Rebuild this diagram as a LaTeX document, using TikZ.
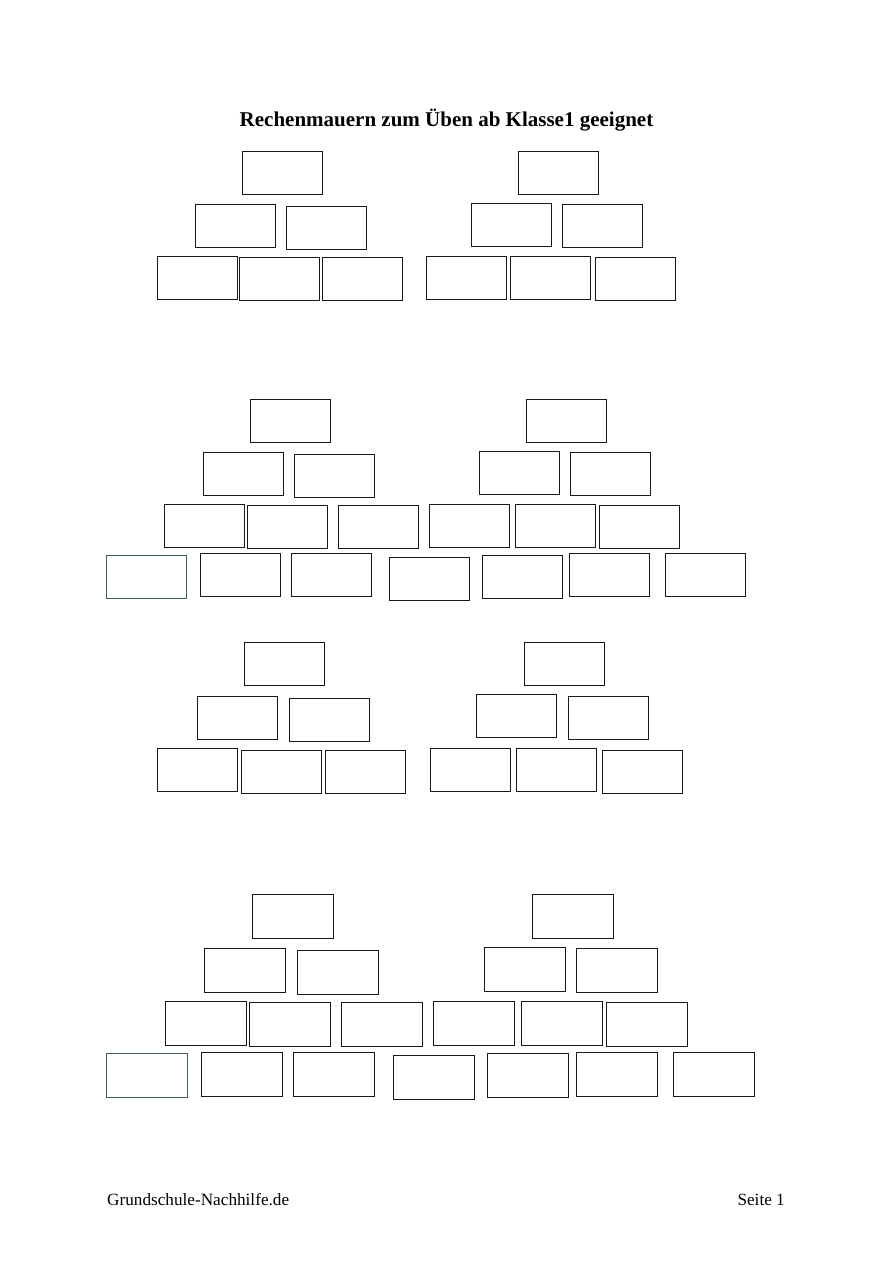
\documentclass[tikz,border=0pt]{standalone}
\usepackage{fontspec}
\setmainfont{Liberation Serif}
\usepackage{xcolor}
\usepackage{tikz}
\usetikzlibrary{positioning}
\definecolor{slategrey}{RGB}{70,95,85}
\tikzset{
  brick/.style={draw=black!90, line width=1.2pt, rectangle, anchor=north west, minimum width=80pt, minimum height=43pt, inner sep=0pt},
  bigbrick/.style={brick, minimum width=81pt, minimum height=44pt},
  edgebrick/.style={draw=slategrey},
  titlenode/.style={font=\fontsize{21}{25}\selectfont\bfseries, anchor=base, inner sep=0pt},
  footnode/.style={font=\fontsize{17.2}{20}\selectfont, inner sep=0pt}
}
\begin{document}
\begin{tikzpicture}[x=1pt, y=-1pt]
\useasboundingbox (0,0) rectangle (893,1263);

% Title
\node[titlenode] (title) at (446.5,126) {Rechenmauern zum Üben ab Klasse1 geeignet};

% Wall 1 left and right
\foreach \x/\y [count=\i] in {242/151, 195/204, 286/206, 157/256, 239/257, 322/257}
  \node[brick] (a\i) at (\x,\y) {};
\foreach \x/\y [count=\i] in {518/151, 471/203, 562/204, 426/256, 510/256, 595/257}
  \node[brick] (b\i) at (\x,\y) {};

% Wall 2 (four rows)
\foreach \x/\y [count=\i] in {250/399, 203/452, 294/454, 164/504, 247/505, 338/505}
  \node[brick] (c\i) at (\x,\y) {};
\foreach \x/\y [count=\i] in {526/399, 479/451, 570/452, 429/504, 515/504, 599/505}
  \node[brick] (d\i) at (\x,\y) {};
\node[brick, edgebrick] (e1) at (106,555) {};
\foreach \x/\y [count=\i from 2] in {200/553, 291/553, 389/557, 482/555, 569/553, 665/553}
  \node[brick] (e\i) at (\x,\y) {};

% Wall 3 left and right
\foreach \x/\y [count=\i] in {244/642, 197/696, 289/698, 157/748, 241/750, 325/750}
  \node[brick] (f\i) at (\x,\y) {};
\foreach \x/\y [count=\i] in {524/642, 476/694, 568/696, 430/748, 516/748, 602/750}
  \node[brick] (g\i) at (\x,\y) {};

% Wall 4 (four rows)
\foreach \x/\y [count=\i] in {252/894, 204/948, 297/950, 165/1001, 249/1002, 341/1002}
  \node[bigbrick] (h\i) at (\x,\y) {};
\foreach \x/\y [count=\i] in {532/894, 484/947, 576/948, 433/1001, 521/1001, 606/1002}
  \node[bigbrick] (k\i) at (\x,\y) {};
\node[bigbrick, edgebrick] (m1) at (106,1053) {};
\foreach \x/\y [count=\i from 2] in {201/1052, 293/1052, 393/1055, 487/1053, 576/1052, 673/1052}
  \node[bigbrick] (m\i) at (\x,\y) {};

% Footer
\node[footnode, anchor=base west] (site) at (107,1205) {Grundschule-Nachhilfe.de};
\node[footnode, anchor=base east] (page) at (785,1205) {Seite 1};

\end{tikzpicture}
\end{document}
